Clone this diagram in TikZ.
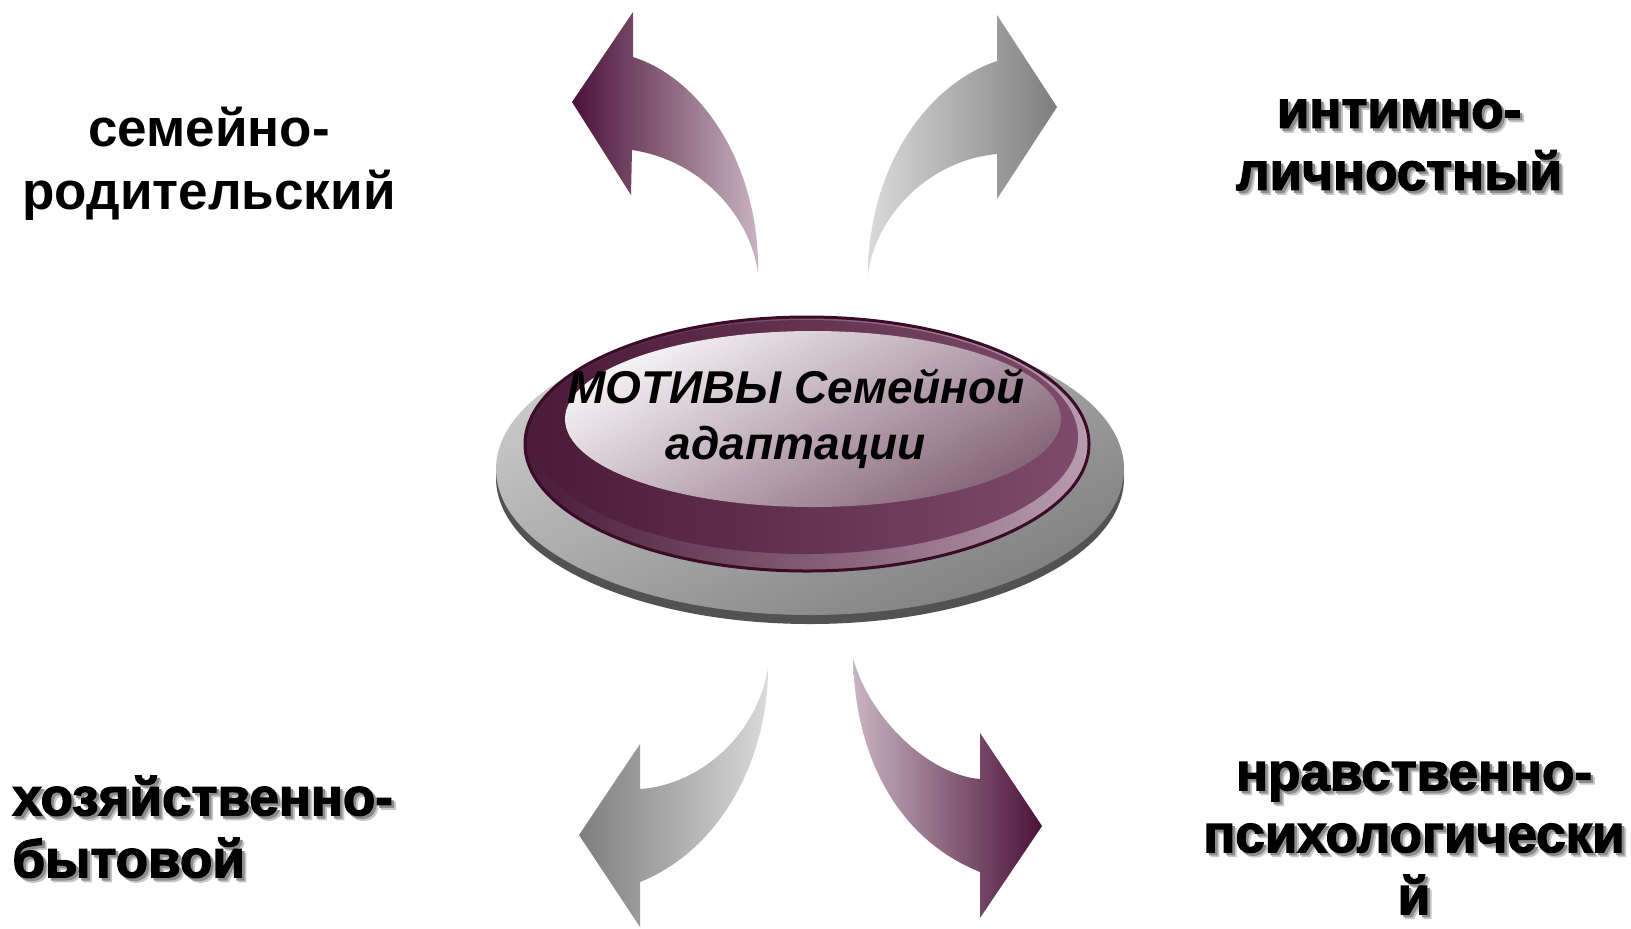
\documentclass[tikz,border=0pt]{standalone}
\usepackage{fontspec}
\setmainfont{Liberation Sans}
\newfontfamily\heavyfont{Liberation Sans}[BoldFeatures={FakeBold=2.5}]
\definecolor{dpurple}{HTML}{4B1238}
\definecolor{lmauve}{HTML}{C9B5C3}
\definecolor{lgray}{HTML}{DADADA}
\definecolor{dgray}{HTML}{7E7E7E}
\definecolor{rimdark}{HTML}{3A0C28}
\definecolor{bodydark}{HTML}{4A1A38}
\definecolor{bodylight}{HTML}{7D4C6A}
\definecolor{bandlight}{HTML}{B99CB0}
\definecolor{facelight}{HTML}{F6F3F5}
\definecolor{facedark}{HTML}{866579}
\tikzset{
  plainlabel/.style={font=\bfseries\fontsize{26.5pt}{31.5pt}\selectfont, align=center, inner sep=0pt},
  heavylabel/.style={font=\heavyfont\bfseries\fontsize{26.5pt}{31pt}\selectfont, inner sep=0pt},
  titlelabel/.style={font=\bfseries\itshape\fontsize{23pt}{28pt}\selectfont, align=center, inner sep=0pt},
}
% text with a soft drop shadow
\newcommand{\shd}[1]{\leavevmode\rlap{\kern2.2pt\raisebox{-2.2pt}{\color{black!22}#1}}\rlap{\kern1.3pt\raisebox{-1.3pt}{\color{black!45}#1}}#1}
\begin{document}
\begin{tikzpicture}[x=0.5pt,y=-0.5pt]
\useasboundingbox (0,0) rectangle (1631,928);
% arrows
\path[left color=dpurple, right color=lmauve]
  (572,102) -- (633,12) -- (633,57)
  .. controls (705,80) and (760,170) .. (758,273)
  .. controls (750,215) and (700,160) .. (632,150)
  -- (631,195) -- cycle;
\path[left color=lgray, right color=dgray]
  (1057,107) -- (997,15) -- (997,61)
  .. controls (925,85) and (868,170) .. (868,275)
  .. controls (875,215) and (930,160) .. (997,154)
  -- (997,199) -- cycle;
\path[left color=dgray, right color=lgray]
  (579,835) -- (640,744) -- (640,789)
  .. controls (700,785) and (757,735) .. (768,668)
  .. controls (768,760) and (720,850) .. (640,882)
  -- (640,927) -- cycle;
\path[left color=lmauve, right color=dpurple]
  (1042,826) -- (980,733) -- (980,779)
  .. controls (930,775) and (870,720) .. (853,658)
  .. controls (855,760) and (900,840) .. (980,872)
  -- (980,918) -- cycle;
% button base
\fill[black!68] (810,478) ellipse [x radius=157pt, y radius=73pt];
\shade[top color=black!20, bottom color=black!50, shading angle=25] (810,469) ellipse [x radius=157pt, y radius=73pt];
% purple button
\shade[left color=bodydark, right color=bandlight, draw=rimdark, line width=1.5pt] (807,444) ellipse [x radius=141pt, y radius=63.5pt];
\shade[left color=bodydark, right color=bodylight] (806,437) ellipse [x radius=136pt, y radius=58.5pt];
\shade[top color=facelight, bottom color=facedark, shading angle=30] (813,419) ellipse [x radius=124pt, y radius=44pt];
\node[titlelabel] (title) at (796,419) {МОТИВЫ Семейной\\адаптации};
% labels
\node[plainlabel] (semrod) at (209,164) {семейно-\\родительский};
\node[heavylabel, align=center] (intim) at (1399,147) {\shd{интимно-}\\\shd{личностный}};
\node[heavylabel, align=left, anchor=west] (hoz) at (12,829) {\shd{хозяйственно-}\\\shd{бытовой}};
\node[heavylabel, align=center] (nrav) at (1414,840) {\shd{нравственно-}\\\shd{психологически}\\\shd{й}};
\end{tikzpicture}
\end{document}
